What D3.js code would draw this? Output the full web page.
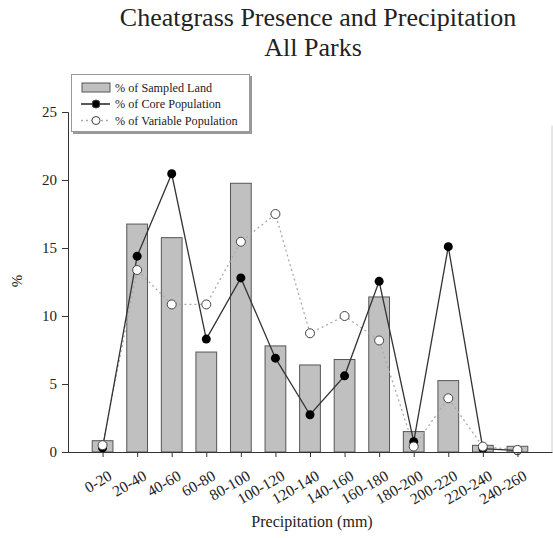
<!DOCTYPE html>
<html><head><meta charset="utf-8">
<script src="https://cdn.jsdelivr.net/npm/d3@7"></script>
<style>body{margin:0;background:#fff}svg{display:block}text{font-family:"Liberation Serif","Times New Roman",serif;fill:#222}</style>
</head><body><svg id="c" width="553" height="538"></svg>
<script>
const categories = ["0-20","20-40","40-60","60-80","80-100","100-120","120-140","140-160","160-180","180-200","200-220","220-240","240-260"];
const sampledLand = [0.83,16.76,15.76,7.35,19.76,7.8,6.4,6.8,11.4,1.5,5.25,0.49,0.42];
const corePop = [0.3,14.4,20.46,8.3,12.8,6.9,2.74,5.6,12.55,0.76,15.1,0.25,0.1];
const varPop = [0.5,13.38,10.85,10.85,15.46,17.5,8.73,10.0,8.2,0.4,3.95,0.4,0.15];
const yTicks = [0,5,10,15,20,25];

(function(){
const svg = d3.select("#c");
const pLeft = 68, pRight = 552, pTop = 112, pBottom = 452;
const x = d3.scaleLinear().domain([0, categories.length + 1]).range([pLeft, pRight]);
const y = d3.scaleLinear().domain([0, 25]).range([pBottom, pTop]);
const step = x(1) - x(0);
const bw = step * 0.6;

svg.append("text").attr("x", 318).attr("y", 26).attr("text-anchor","middle").style("font-size","26px").text("Cheatgrass Presence and Precipitation");
svg.append("text").attr("x", 313).attr("y", 56).attr("text-anchor","middle").style("font-size","26px").text("All Parks");

svg.append("line").attr("x1", pRight).attr("x2", pRight).attr("y1", y(24)).attr("y2", pBottom).attr("stroke","#ccc").attr("stroke-width",1);

svg.selectAll("rect.bar").data(sampledLand).join("rect").attr("class","bar")
  .attr("x",(d,i)=>x(i+1)-bw/2).attr("width",bw)
  .attr("y",d=>y(d)).attr("height",d=>y(0)-y(d))
  .attr("fill","#c0c0c0").attr("stroke","#555").attr("stroke-width",1);

const line = d3.line().x((d,i)=>x(i+1)).y(d=>y(d));
svg.append("path").datum(varPop).attr("d",line).attr("fill","none").attr("stroke","#aaa").attr("stroke-width",1.3).attr("stroke-dasharray","2,3");
svg.append("path").datum(corePop).attr("d",line).attr("fill","none").attr("stroke","#333").attr("stroke-width",1.3);

svg.selectAll("circle.core").data(corePop).join("circle").attr("class","core")
  .attr("cx",(d,i)=>x(i+1)).attr("cy",d=>y(d)).attr("r",4.5).attr("fill","#000");
svg.selectAll("circle.var").data(varPop).join("circle").attr("class","var")
  .attr("cx",(d,i)=>x(i+1)).attr("cy",d=>y(d)).attr("r",4.5).attr("fill","#fff").attr("stroke","#444").attr("stroke-width",1);

const yAxis = d3.axisLeft(y).tickValues(yTicks).tickSize(6).tickPadding(5);
const gy = svg.append("g").attr("transform",`translate(${pLeft},0)`).call(yAxis);
gy.select(".domain").attr("stroke","#333");
gy.selectAll(".tick line").attr("stroke","#333");
gy.selectAll("text").style("font-size","15px").attr("fill","#222").style("font-family","Liberation Serif");

const xAxis = d3.axisBottom(x).tickValues(d3.range(1, categories.length+1)).tickFormat(i=>categories[i-1]).tickSize(5).tickSizeOuter(0);
const gx = svg.append("g").attr("transform",`translate(0,${pBottom})`).call(xAxis);
gx.select(".domain").attr("stroke","#333");
gx.selectAll(".tick line").attr("stroke","#333");
gx.selectAll("text").style("font-size","15.5px").attr("fill","#222").style("font-family","Liberation Serif")
  .attr("text-anchor","end").attr("dy","0").attr("transform","translate(6,20) rotate(-30)");

svg.append("text").attr("x",312).attr("y",527).attr("text-anchor","middle").style("font-size","16px").text("Precipitation (mm)");
svg.append("text").attr("transform","translate(22,281) rotate(-90)").attr("text-anchor","middle").style("font-size","15px").text("%");

const lg = svg.append("g");
lg.append("rect").attr("x",73).attr("y",76).attr("width",179).attr("height",58).attr("fill","#999");
lg.append("rect").attr("x",71.5).attr("y",74.5).attr("width",178).attr("height",57).attr("fill","#fff").attr("stroke","#999").attr("stroke-width",1);
const items = [{t:"% of Sampled Land",k:"bar"},{t:"% of Core Population",k:"core"},{t:"% of Variable Population",k:"var"}];
items.forEach((it,i)=>{
  const yy = 87.5 + i*16.5;
  if(it.k==="bar") lg.append("rect").attr("x",82).attr("y",yy-4.5).attr("width",28).attr("height",9).attr("fill","#c0c0c0").attr("stroke","#555");
  else {
    lg.append("line").attr("x1",81).attr("x2",110).attr("y1",yy).attr("y2",yy).attr("stroke",it.k==="core"?"#222":"#aaa").attr("stroke-width",1.5).attr("stroke-dasharray",it.k==="core"?null:"2,3");
    lg.append("circle").attr("cx",96).attr("cy",yy).attr("r",4).attr("fill",it.k==="core"?"#000":"#fff").attr("stroke","#444");
  }
  lg.append("text").attr("x",115).attr("y",yy+4).style("font-size","12.2px").text(it.t);
});
})();
</script></body></html>
